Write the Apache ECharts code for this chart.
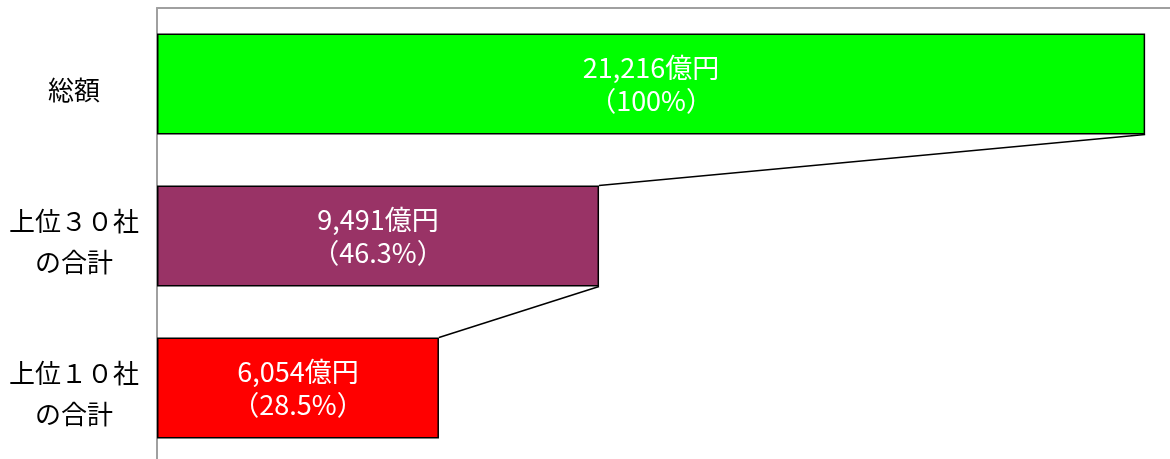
<!DOCTYPE html>
<html>
<head>
<meta charset="utf-8">
<script src="https://cdn.jsdelivr.net/npm/echarts@6/dist/echarts.min.js"></script>
<style>
html,body{margin:0;padding:0;background:#fff;}
#chart{width:1170px;height:459px;}
</style>
</head>
<body>
<div id="chart"></div>
<script>
const categories = ['総額', '上位３０社\nの合計', '上位１０社\nの合計'];
const values = [21216, 9491, 6054];
const percents = ['100', '46.3', '28.5'];
const colors = ['#00FF00', '#993366', '#FF0000'];

const chart = echarts.init(document.getElementById('chart'));
const fmt = v => v.toLocaleString('en-US');

const connectors = [];
for (let i = 0; i < values.length - 1; i++) {
  connectors.push([values[i], i, values[i + 1], i + 1]);
}

chart.setOption({
  animation: false,
  grid: { left: 157, top: 8, right: 0, bottom: -5, outerBoundsMode: 'none', containLabel: false },
  xAxis: {
    type: 'value',
    position: 'top',
    min: 0,
    max: 21750,
    axisLine: { show: true, lineStyle: { color: '#a0a0a0', width: 2 } },
    axisTick: { show: false },
    axisLabel: { show: false },
    splitLine: { show: false }
  },
  yAxis: {
    type: 'category',
    inverse: true,
    data: categories,
    axisLine: { show: true, lineStyle: { color: '#a0a0a0', width: 2 } },
    axisTick: { show: false },
    axisLabel: {
      margin: 83,
      align: 'center',
      color: '#000',
      fontSize: 26,
      lineHeight: 41,
      fontFamily: 'Noto Sans CJK JP',
      formatter: v => '{sp|}\n' + v.split('\n').map(s => '{t|' + s + '}').join('\n'),
      rich: {
        sp: { lineHeight: 12, fontSize: 1 },
        t: { fontSize: 26, lineHeight: 41, color: '#000', fontFamily: 'Noto Sans CJK JP' }
      }
    }
  },
  series: [
    {
      type: 'bar',
      barWidth: 101,
      data: values.map((v, i) => ({ value: v, itemStyle: { color: colors[i] } })),
      itemStyle: { borderColor: '#000', borderWidth: 1.5 },
      label: {
        show: true,
        position: 'inside',
        color: '#fff',
        fontSize: 27,
        lineHeight: 33,
        fontFamily: 'Noto Sans CJK JP',
        formatter: p => fmt(values[p.dataIndex]) + '億円\n（' + percents[p.dataIndex] + '%）'
      },
      z: 3
    },
    {
      type: 'custom',
      data: connectors,
      encode: { x: [0, 2], y: [1, 3] },
      renderItem: (params, api) => {
        const a = api.coord([api.value(0), api.value(1)]);
        const b = api.coord([api.value(2), api.value(3)]);
        const half = 50.5;
        return {
          type: 'line',
          shape: { x1: a[0], y1: a[1] + half, x2: b[0], y2: b[1] - half },
          style: { stroke: '#000', lineWidth: 1.5 }
        };
      },
      z: 4
    }
  ]
});
</script>
</body>
</html>
